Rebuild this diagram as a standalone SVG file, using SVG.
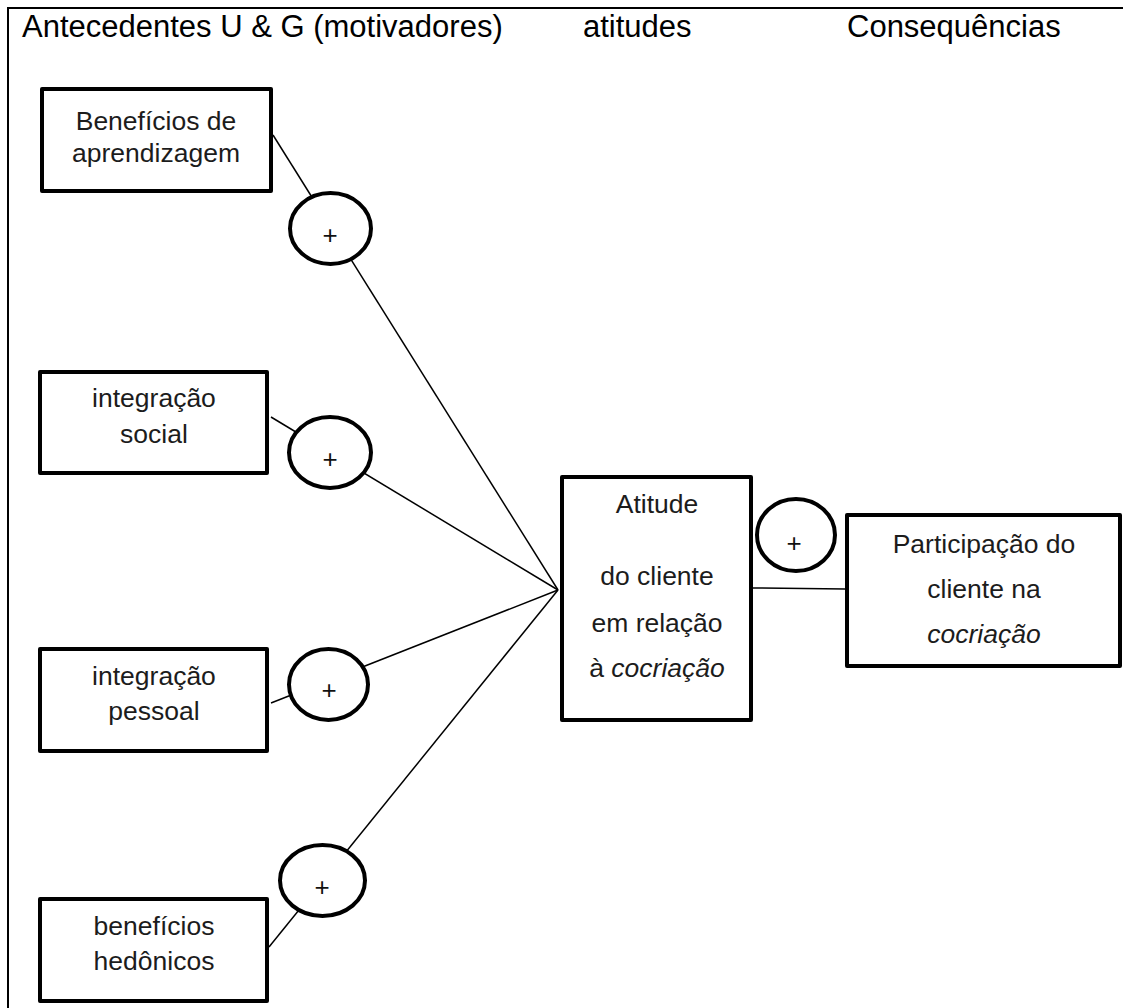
<svg xmlns="http://www.w3.org/2000/svg" width="1123" height="1008" viewBox="0 0 1123 1008">
  <style>
    text { font-family: "Liberation Sans", Arial, sans-serif; fill: #111; }
    .head { font-size: 31px; fill: #000; }
    .lbl { font-size: 26.5px; text-anchor: middle; fill: #1c1c1c; }
    .plus { font-size: 26px; text-anchor: middle; }
    .box { fill: #fff; stroke: #000; stroke-width: 4; stroke-linejoin: round; }
    .sign { fill: #fff; stroke: #000; stroke-width: 4; }
    .link { stroke: #000; stroke-width: 1.5; fill: none; }
    .frame { stroke: #000; stroke-width: 2; fill: none; }
    .it { font-style: italic; }
  </style>
  <rect width="1123" height="1008" fill="#fff"/>

  <!-- frame and column headings -->
  <g id="frame">
    <polyline class="frame" points="8,1008 8,8 1123,8"/>
    <text class="head" x="22" y="37">Antecedentes U &amp; G (motivadores)</text>
    <text class="head" x="583" y="37">atitudes</text>
    <text class="head" x="847" y="37">Consequências</text>
  </g>

  <!-- connectors -->
  <g id="connectors">
    <line class="link" x1="273" y1="135" x2="558" y2="590"/>
    <line class="link" x1="271" y1="417" x2="558" y2="590"/>
    <line class="link" x1="271" y1="703" x2="558" y2="590"/>
    <line class="link" x1="269" y1="947" x2="558" y2="590"/>
    <line class="link" x1="753" y1="588" x2="845" y2="589"/>
  </g>

  <!-- antecedents -->
  <g id="aprendizagem">
    <rect class="box" x="42" y="89" width="229" height="102"/>
    <text class="lbl" x="156" y="130">Benefícios de</text>
    <text class="lbl" x="156" y="162">aprendizagem</text>
  </g>
  <g id="integracao-social">
    <rect class="box" x="40" y="372" width="227" height="101"/>
    <text class="lbl" x="154" y="407">integração</text>
    <text class="lbl" x="154" y="443">social</text>
  </g>
  <g id="integracao-pessoal">
    <rect class="box" x="40" y="649" width="227" height="102"/>
    <text class="lbl" x="154" y="685">integração</text>
    <text class="lbl" x="154" y="720">pessoal</text>
  </g>
  <g id="hedonicos">
    <rect class="box" x="40" y="899" width="227" height="102"/>
    <text class="lbl" x="154" y="935">benefícios</text>
    <text class="lbl" x="154" y="970">hedônicos</text>
  </g>

  <!-- positive-effect markers -->
  <g id="sinal-1">
    <ellipse class="sign" cx="330.5" cy="228.5" rx="40.5" ry="35.5"/>
    <text class="plus" x="330" y="244">+</text>
  </g>
  <g id="sinal-2">
    <ellipse class="sign" cx="330" cy="452.5" rx="41" ry="35.5"/>
    <text class="plus" x="330" y="468">+</text>
  </g>
  <g id="sinal-3">
    <ellipse class="sign" cx="328.5" cy="684.5" rx="39.5" ry="35.5"/>
    <text class="plus" x="329" y="699">+</text>
  </g>
  <g id="sinal-4">
    <ellipse class="sign" cx="322.5" cy="880.5" rx="42.5" ry="35.5"/>
    <text class="plus" x="322" y="896">+</text>
  </g>
  <g id="sinal-5">
    <ellipse class="sign" cx="796" cy="535" rx="39" ry="36"/>
    <text class="plus" x="794" y="552">+</text>
  </g>

  <!-- attitude -->
  <g id="atitude">
    <rect class="box" x="562" y="477" width="189" height="243"/>
    <text class="lbl" x="657" y="513">Atitude</text>
    <text class="lbl" x="657" y="585">do cliente</text>
    <text class="lbl" x="657" y="632">em relação</text>
    <text class="lbl" x="657" y="677">à <tspan class="it">cocriação</tspan></text>
  </g>

  <!-- consequence -->
  <g id="participacao">
    <rect class="box" x="847" y="515" width="273" height="151"/>
    <text class="lbl" x="984" y="553">Participação do</text>
    <text class="lbl" x="984" y="598">cliente na</text>
    <text class="lbl it" x="984" y="643">cocriação</text>
  </g>
</svg>
